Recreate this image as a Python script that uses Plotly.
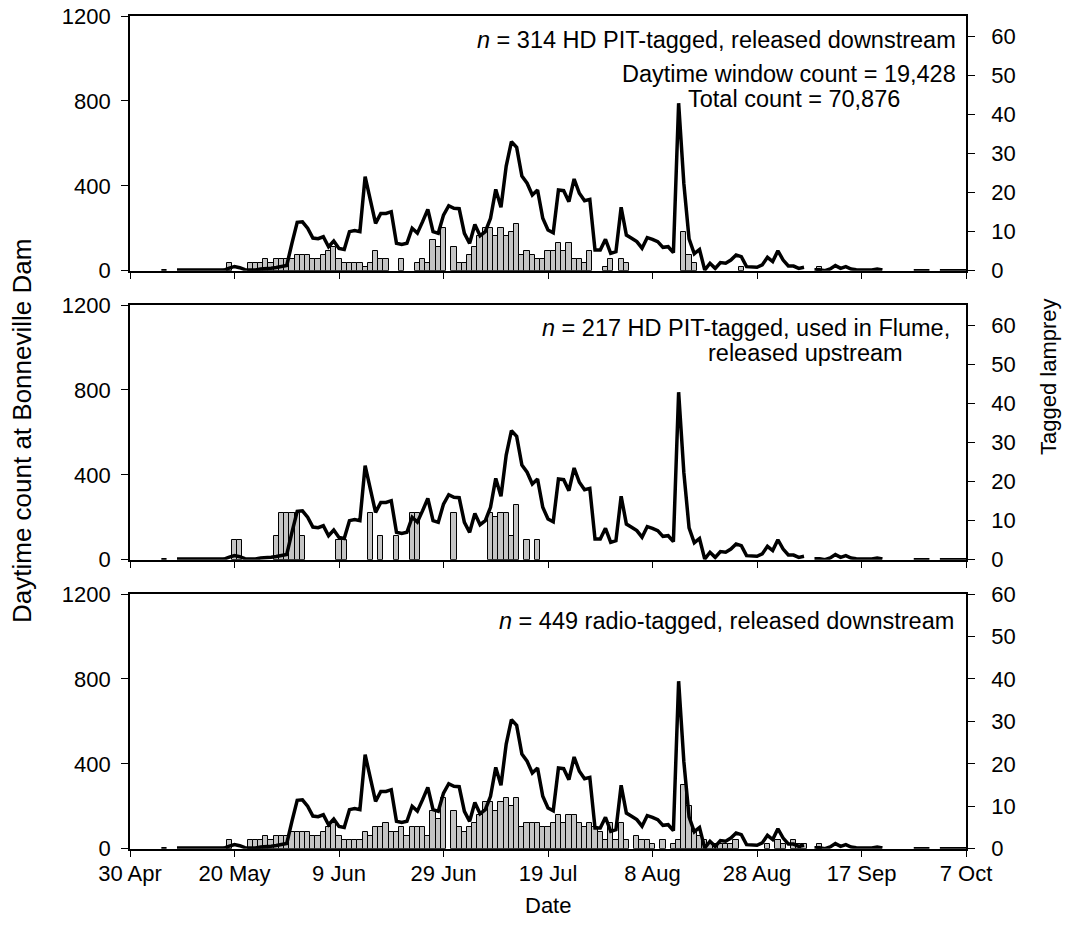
import pandas as pd
import plotly.graph_objects as go

# ---------------- data ----------------
start_date = "2013-04-30"
tick_labels = ["30 Apr", "20 May", "9 Jun", "29 Jun", "19 Jul", "8 Aug", "28 Aug", "17 Sep", "7 Oct"]
tick_offsets = [0, 20, 40, 60, 80, 100, 120, 140, 160]
left_ticks = [0, 400, 800, 1200]
right_ticks = [0, 10, 20, 30, 40, 50, 60]

# daily daytime window count (day 0 = 30 Apr), None = no data
daytime_count = (
    [None] * 6 + [0, 0, None] + [3] * 10 +
    [12, 20, 14, 5, 3, 3, 8, 12, 12, 15, 18,            # 19-29
     25, 130, 228, 230, 200, 154, 151, 160, 113, 140,   # 30-39
     105, 100, 184, 189, 184, 443, 330, 223, 270, 270,  # 40-49
     278, 129, 124, 129, 200, 177, 231, 289, 184, 176,  # 50-59
     262, 306, 294, 292, 176, 129, 218, 165, 184, 247,  # 60-69
     383, 299, 493, 608, 581, 446, 412, 357, 380, 247,  # 70-79
     192, 179, 380, 377, 325, 432, 365, 330, 336, 97,   # 80-89
     97, 148, 82, 90, 299, 168, 153, 137, 106, 156,     # 90-99
     148, 137, 110, 113, 85, 789, 410, 150, 80, 100,    # 100-109
     3, 35, 11, 38, 35, 50, 74, 66, 19, 16,             # 110-119
     16, 27, 63, 43, 94, 50, 22, 22, 11, 16,            # 120-129
     None, 5, 5, 0, 8, 24, 11, 19, 8, 5,                # 130-139
     5, 3, 3, 8, 3, None, None, None, None, None,       # 140-149
     0, 0, 0, 0, None, 0, 0, 0, 0, 0, 0]                # 150-160
)

# tagged lamprey per day (day offset from 30 Apr)
pit_down_days = [19, 23, 24, 25, 26, 27, 28, 29, 30, 31, 32, 33, 34, 35, 36, 37, 38, 39, 40,
                 41, 42, 43, 44, 45, 46, 47, 48, 49, 52, 55, 56, 57, 58, 59, 60, 62, 63, 64,
                 65, 66, 67, 68, 69, 70, 71, 72, 73, 74, 75, 76, 77, 78, 79, 80, 81, 82, 83,
                 84, 85, 86, 87, 88, 91, 92, 94, 95, 106, 107, 108, 117, 132]
pit_down_counts = [2, 2, 2, 2, 3, 2, 3, 3, 3, 3, 4, 4, 4, 3, 3, 4, 5, 6, 3,
                   2, 2, 2, 2, 1, 2, 5, 3, 3, 3, 2, 3, 2, 8, 6, 11, 6, 2, 2,
                   4, 6, 9, 11, 11, 9, 11, 9, 10, 12, 4, 5, 4, 3, 3, 5, 5, 7, 5,
                   7, 3, 3, 2, 5, 1, 3, 3, 2, 10, 4, 2, 1, 1]

pit_flume_days = [20, 21, 28, 29, 30, 31, 32, 33, 40, 41, 46, 48, 51, 54, 55, 62, 69, 70, 71,
                  72, 73, 74, 76, 78]
pit_flume_counts = [5, 5, 6, 12, 12, 12, 12, 6, 5, 5, 12, 6, 6, 12, 12, 12, 12, 11, 12,
                    12, 6, 14, 5, 5]

radio_days = [19, 23, 24, 25, 26, 27, 28, 29, 30, 31, 32, 33, 34, 35, 36, 37, 38, 39, 40,
              41, 42, 43, 44, 45, 46, 47, 48, 49, 50, 51, 52, 53, 54, 55, 56, 57, 58, 59,
              60, 62, 63, 64, 65, 66, 67, 68, 69, 70, 71, 72, 73, 74, 75, 76, 77, 78, 79,
              80, 81, 82, 83, 84, 85, 86, 87, 88, 89, 90, 91, 92, 93, 94, 95, 97, 98, 99,
              100, 102, 104, 105, 106, 107, 108, 109, 110, 111, 112, 113, 114, 115, 116,
              122, 124, 125, 127, 128, 129, 132]
radio_counts = [2, 2, 2, 2, 3, 2, 3, 3, 3, 4, 4, 4, 4, 3, 3, 4, 5, 6, 3,
                2, 2, 2, 2, 4, 3, 5, 5, 6, 4, 4, 5, 3, 5, 5, 5, 3, 9, 7,
                12, 9, 5, 4, 5, 6, 8, 11, 11, 9, 11, 12, 10, 12, 5, 6, 6, 6, 5,
                5, 6, 8, 6, 8, 8, 6, 5, 6, 5, 4, 2, 6, 2, 6, 2, 3, 2, 2,
                1, 2, 1, 2, 15, 10, 4, 3, 2, 1, 1, 1, 1, 1, 2,
                1, 2, 1, 2, 1, 1, 1]

panel_texts = [
    ["<i>n</i> = 314 HD PIT-tagged, released downstream",
     "Daytime window count = 19,428", "Total count = 70,876"],
    ["<i>n</i> = 217 HD PIT-tagged, used in Flume,", "released upstream"],
    ["<i>n</i> = 449 radio-tagged, released downstream"],
]

# ---------------- figure ----------------
W, H = 1068, 943
FONT = "Liberation Sans, Arial, sans-serif"
TICK = 22
NOTE = 23.5
NB = "\u00a0"
t0 = pd.Timestamp(start_date)
dates_all = [t0 + pd.Timedelta(days=i) for i in range(len(daytime_count))]
tickvals = [t0 + pd.Timedelta(days=d) for d in tick_offsets]
x_range = [t0, t0 + pd.Timedelta(days=tick_offsets[-1])]

def px_x(p):
    return p / W

def px_y(p):
    return 1 - p / H

x_dom = [px_x(130), px_x(966)]
panels = [(16, 270.7), (305, 559.7), (594, 848.7)]
bar_sets = [(pit_down_days, pit_down_counts), (pit_flume_days, pit_flume_counts),
            (radio_days, radio_counts)]
right_max = [65.3, 65.3, 60]

fig = go.Figure()
layout = dict(width=W, height=H, autosize=False,
              margin=dict(l=0, r=0, t=0, b=0, pad=0, autoexpand=False),
              paper_bgcolor="white", plot_bgcolor="white", showlegend=False,
              bargap=0, font=dict(family=FONT, size=TICK, color="black"))

for i, ((top, bot), (bd, bc)) in enumerate(zip(panels, bar_sets)):
    xa = "x" if i == 0 else f"x{i+1}"
    yb_n = 2 * i + 1
    yl_n = 2 * i + 2
    yb = "y" if yb_n == 1 else f"y{yb_n}"
    yl = f"y{yl_n}"
    fig.add_trace(go.Bar(
        x=[t0 + pd.Timedelta(days=d) for d in bd], y=bc,
        width=86400000, xaxis=xa, yaxis=yb,
        marker=dict(color="#c4c4c4", line=dict(color="black", width=1)),
    ))
    fig.add_trace(go.Scatter(
        x=dates_all, y=daytime_count, mode="lines", connectgaps=False,
        line=dict(color="black", width=3.5), xaxis=xa, yaxis=yl,
    ))
    dom_y = [px_y(bot), px_y(top)]
    common = dict(ticks="outside", ticklen=7, tickwidth=1.3, tickcolor="black",
                  showline=True, linecolor="black", linewidth=1.5, showgrid=False,
                  zeroline=False, automargin=False, tickfont=dict(size=TICK))
    layout["xaxis" if i == 0 else f"xaxis{i+1}"] = dict(
        domain=x_dom, anchor=yb, type="date", range=x_range,
        tickvals=tickvals, ticktext=tick_labels, showticklabels=(i == 2),
        ticklabelposition="outside", ticklabelstandoff=-3,
        mirror=True, **common)
    layout["yaxis" if yb_n == 1 else f"yaxis{yb_n}"] = dict(
        domain=dom_y, anchor=xa, side="right", range=[0, right_max[i]],
        tickvals=right_ticks, ticktext=[NB + NB + str(v) for v in right_ticks], **common)
    layout[f"yaxis{yl_n}"] = dict(
        overlaying=yb, anchor=xa, side="left", range=[0, 1200],
        tickvals=left_ticks, ticktext=[str(v) + NB for v in left_ticks], **common)

fig.update_layout(**layout)

ann = []
text_pos = [
    [(958, 40), (958, 74), (902, 99)],
    [(952, 328), (905, 353)],
    [(956, 621)],
]
for texts, poss in zip(panel_texts, text_pos):
    for t, (xp, yp) in zip(texts, poss):
        ann.append(dict(text=t, x=px_x(xp), y=px_y(yp), xref="paper", yref="paper",
                        xanchor="right", yanchor="middle", showarrow=False,
                        font=dict(size=NOTE)))
ann.append(dict(text="Daytime count at Bonneville Dam", x=px_x(22), y=px_y(431),
                xref="paper", yref="paper", textangle=-90, showarrow=False,
                xanchor="center", yanchor="middle", font=dict(size=26)))
ann.append(dict(text="Tagged lamprey", x=px_x(1048), y=px_y(377),
                xref="paper", yref="paper", textangle=-90, showarrow=False,
                xanchor="center", yanchor="middle", font=dict(size=22)))
ann.append(dict(text="Date", x=px_x(548), y=px_y(905), xref="paper", yref="paper",
                showarrow=False, xanchor="center", yanchor="middle", font=dict(size=22)))
fig.update_layout(annotations=ann)

fig.write_html("out.html")
